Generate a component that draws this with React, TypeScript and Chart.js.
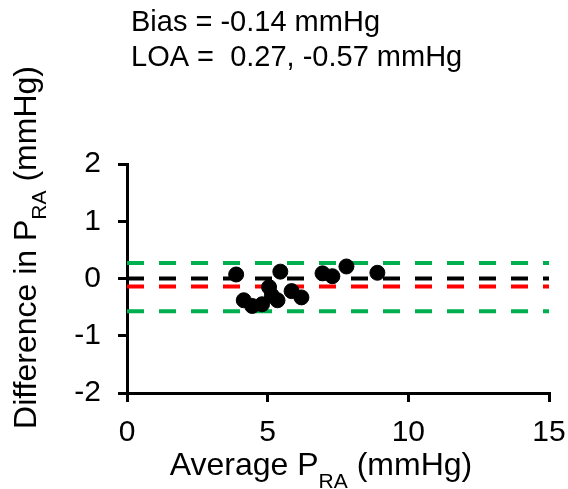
import React, { useEffect, useRef } from "react";
import { Chart, registerables } from "chart.js";

Chart.register(...registerables);

const avgPRA = [3.88, 4.15, 4.45, 4.8, 5.05, 5.15, 5.35, 5.45, 5.85, 6.2, 6.95, 7.3, 7.8, 8.9];
const diffPRA = [0.07, -0.38, -0.48, -0.45, -0.15, -0.3, -0.38, 0.12, -0.22, -0.33, 0.09, 0.04, 0.21, 0.1];

const bias = -0.14;
const loaUpper = 0.27;
const loaLower = -0.57;
const zeroLine = 0;
const xRange = [0, 15];
const yRange = [-2, 2];

const headerLines = ["Bias = -0.14 mmHg", "LOA =  0.27, -0.57 mmHg"];
const xTitleParts = ["Average P", "RA", " (mmHg)"];
const yTitleParts = ["Difference in P", "RA", " (mmHg)"];

const FONT = '"Liberation Sans", Arial, Helvetica, sans-serif';

function drawParts(ctx: CanvasRenderingContext2D, parts: string[], cx: number, baseY: number, mainSize: number, subSize: number, subDrop: number) {
  const mainFont = `${mainSize}px ${FONT}`;
  const subFont = `${subSize}px ${FONT}`;
  const widths = parts.map((p, i) => {
    ctx.font = i === 1 ? subFont : mainFont;
    return ctx.measureText(p).width;
  });
  const total = widths.reduce((a, b) => a + b, 0);
  let x = cx - total / 2;
  ctx.textAlign = "left";
  ctx.textBaseline = "alphabetic";
  parts.forEach((p, i) => {
    ctx.font = i === 1 ? subFont : mainFont;
    ctx.fillText(p, x, i === 1 ? baseY + subDrop : baseY);
    x += widths[i];
  });
}

const textPlugin = {
  id: "customText",
  afterDraw(chart: any) {
    const ctx: CanvasRenderingContext2D = chart.ctx;
    ctx.save();
    ctx.fillStyle = "#000";
    // header
    ctx.font = `29px ${FONT}`;
    ctx.textAlign = "left";
    ctx.textBaseline = "alphabetic";
    ctx.fillText(headerLines[0], 131, 31);
    ctx.fillText(headerLines[1], 131, 66);
    // x title
    drawParts(ctx, xTitleParts, 321, 475, 32, 21, 13);
    // y title
    ctx.save();
    ctx.translate(36, 247.5);
    ctx.rotate(-Math.PI / 2);
    drawParts(ctx, yTitleParts, 0, 0, 32, 21, 10);
    ctx.restore();
    ctx.restore();
  },
};

function hLine(value: number, color: string, order: number) {
  return {
    type: "line" as const,
    data: [
      { x: xRange[0], y: value },
      { x: xRange[1], y: value },
    ],
    borderColor: color,
    borderWidth: 4,
    borderDash: [17, 15],
    pointRadius: 0,
    fill: false,
    order,
  };
}

export default function App() {
  const ref = useRef<HTMLCanvasElement | null>(null);
  useEffect(() => {
    if (!ref.current) return;
    const points = avgPRA.map((x, i) => ({ x, y: diffPRA[i] }));
    const chart = new Chart(ref.current, {
      type: "scatter",
      data: {
        datasets: [
          {
            type: "scatter",
            data: points,
            backgroundColor: "#000",
            borderColor: "#000",
            pointRadius: 7.5,
            pointHoverRadius: 7.5,
            order: 0,
          } as any,
          hLine(zeroLine, "#000000", 1),
          hLine(bias, "#FF0000", 2),
          hLine(loaUpper, "#00B050", 3),
          hLine(loaLower, "#00B050", 4),
        ],
      },
      options: {
        responsive: false,
        devicePixelRatio: 1,
        animation: false,
        events: [],
        layout: { padding: { top: 164, left: 0, right: 19, bottom: 0 } },
        plugins: {
          legend: { display: false },
          tooltip: { enabled: false },
          title: { display: false },
        },
        scales: {
          x: {
            type: "linear",
            min: xRange[0],
            max: xRange[1],
            afterFit: (s: any) => {
              s.height = 96;
              s.paddingLeft = 0;
              s.paddingRight = 0;
            },
            ticks: {
              stepSize: 5,
              color: "#000",
              font: { family: FONT, size: 30 },
              padding: 13,
              maxRotation: 0,
            },
            grid: {
              display: true,
              drawOnChartArea: false,
              drawTicks: true,
              tickLength: 9,
              color: "#000",
              lineWidth: 3,
            },
            border: { display: true, color: "#000", width: 3 },
          },
          y: {
            type: "linear",
            min: yRange[0],
            max: yRange[1],
            afterFit: (s: any) => {
              s.width = 127;
              s.paddingTop = 0;
              s.paddingBottom = 0;
            },
            ticks: {
              stepSize: 1,
              color: "#000",
              font: { family: FONT, size: 30 },
              padding: 17,
            },
            grid: {
              display: true,
              drawOnChartArea: false,
              drawTicks: true,
              tickLength: 9,
              color: "#000",
              lineWidth: 3,
            },
            border: { display: true, color: "#000", width: 3 },
          },
        },
      } as any,
      plugins: [textPlugin],
    });
    return () => chart.destroy();
  }, []);
  return (
    <div style={{ position: "absolute", left: 0, top: 0, width: 568, height: 489, background: "#fff" }}>
      <canvas ref={ref} width={568} height={489} style={{ display: "block" }} />
    </div>
  );
}
